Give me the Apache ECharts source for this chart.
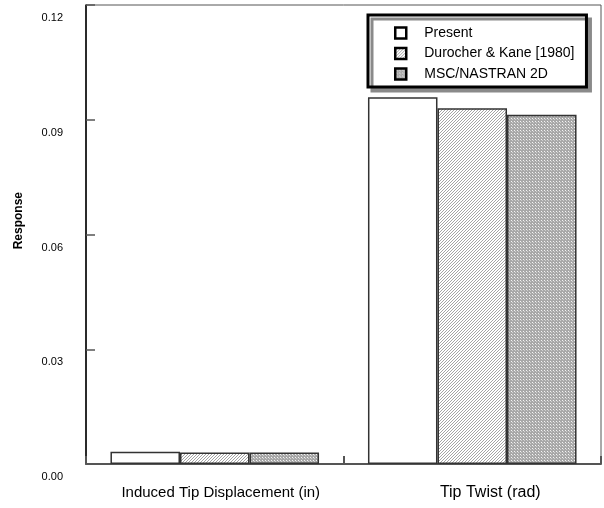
<!DOCTYPE html>
<html>
<head>
<meta charset="utf-8">
<script src="https://cdn.jsdelivr.net/npm/echarts@6/dist/echarts.min.js"></script>
<style>
  html, body { margin: 0; padding: 0; background: #fff; }
  #chart { width: 604px; height: 508px; }
</style>
</head>
<body>
<div id="chart"></div>
<script>
// Response quantities compared across three methods
const categories = ['Induced Tip Displacement (in)', 'Tip Twist (rad)'];
const seriesNames = ['Present', 'Durocher & Kane [1980]', 'MSC/NASTRAN 2D'];
const presentValues = [0.0032, 0.0959];
const durocherValues = [0.0030, 0.0930];
const nastranValues = [0.0030, 0.0913];
const yTicks = [0, 0.03, 0.06, 0.09, 0.12];

// Small tiles used as repeating fills
function makeTile(size, painter) {
  const c = document.createElement('canvas');
  c.width = size; c.height = size;
  const ctx = c.getContext('2d');
  painter(ctx, size);
  return c;
}
const hatchTile = makeTile(3, (ctx, n) => {
  ctx.fillStyle = '#ffffff';
  ctx.fillRect(0, 0, n, n);
  ctx.fillStyle = '#a4a4a4';
  for (let x = 0; x < n; x++) {
    for (let y = 0; y < n; y++) {
      if ((x + y) % 3 === 2) ctx.fillRect(x, y, 1, 1);
    }
  }
});
const dotTile = makeTile(3, (ctx, n) => {
  ctx.fillStyle = '#a8a8a8';
  ctx.fillRect(0, 0, n, n);
  ctx.fillStyle = '#f4f4f4';
  ctx.fillRect(1, 1, 1, 1);
  ctx.fillStyle = '#d0d0d0';
  ctx.fillRect(2, 2, 1, 1);
});

const fills = [
  '#ffffff',
  { image: hatchTile, repeat: 'repeat' },
  { image: dotTile, repeat: 'repeat' }
];
const valueSets = [presentValues, durocherValues, nastranValues];
// horizontal nudge of each category caption (rich-text left padding)
const captionShift = [12, 36];

const chart = echarts.init(document.getElementById('chart'), null, { renderer: 'canvas' });

chart.setOption({
  animation: false,
  backgroundColor: '#ffffff',
  textStyle: { fontFamily: 'Liberation Sans, Arial, sans-serif' },
  grid: {
    left: 86, right: 3, top: 5, bottom: 44,
    containLabel: false,
    outerBoundsMode: 'none',
    show: true, borderColor: '#555', borderWidth: 1
  },
  legend: {
    orient: 'vertical',
    left: 368, top: 15,
    data: seriesNames,
    icon: 'rect',
    itemWidth: 11, itemHeight: 11,
    itemGap: 6.5,
    padding: [11, 12, 6, 26],
    backgroundColor: '#ffffff',
    borderColor: '#000000',
    borderWidth: 3,
    shadowColor: '#8a8a8a',
    shadowBlur: 0,
    shadowOffsetX: 4,
    shadowOffsetY: 4,
    itemStyle: { borderColor: '#000', borderWidth: 2.5 },
    textStyle: { fontSize: 14, color: '#000', padding: [0, 0, 0, 13] }
  },
  xAxis: {
    type: 'category',
    data: categories,
    axisLine: { lineStyle: { color: '#555', width: 2 } },
    axisTick: { show: true, inside: true, length: 8, lineStyle: { color: '#555', width: 2 } },
    axisLabel: {
      interval: 0,
      hideOverlap: false,
      color: '#000', fontSize: 15, margin: 21,
      formatter: (v, i) => '{c' + i + '|' + v + '}',
      rich: {
        c0: { fontSize: 15, color: '#000', padding: [0, 0, 0, captionShift[0]] },
        c1: { fontSize: 16, color: '#000', padding: [0, 0, 0, captionShift[1]] }
      }
    }
  },
  yAxis: {
    type: 'value',
    min: yTicks[0],
    max: yTicks[yTicks.length - 1],
    interval: 0.03,
    splitLine: { show: false },
    axisLine: { show: true, lineStyle: { color: '#000', width: 1.5 } },
    axisTick: { show: true, inside: true, length: 9, lineStyle: { color: '#555', width: 1.5 } },
    axisLabel: {
      color: '#000', fontSize: 11, margin: 23,
      lineHeight: 26,
      formatter: v => '\n' + v.toFixed(2)
    }
  },
  graphic: [{
    type: 'text',
    left: 13, top: 192,
    rotation: Math.PI / 2,
    style: {
      text: 'Response',
      font: 'bold 12px Liberation Sans, Arial, sans-serif',
      fill: '#000'
    }
  }],
  series: seriesNames.map((name, i) => ({
    name: name,
    type: 'bar',
    data: valueSets[i],
    barGap: '0%',
    barCategoryGap: '19%',
    itemStyle: { color: fills[i], borderColor: '#333', borderWidth: 1.5 }
  }))
});
</script>
</body>
</html>
